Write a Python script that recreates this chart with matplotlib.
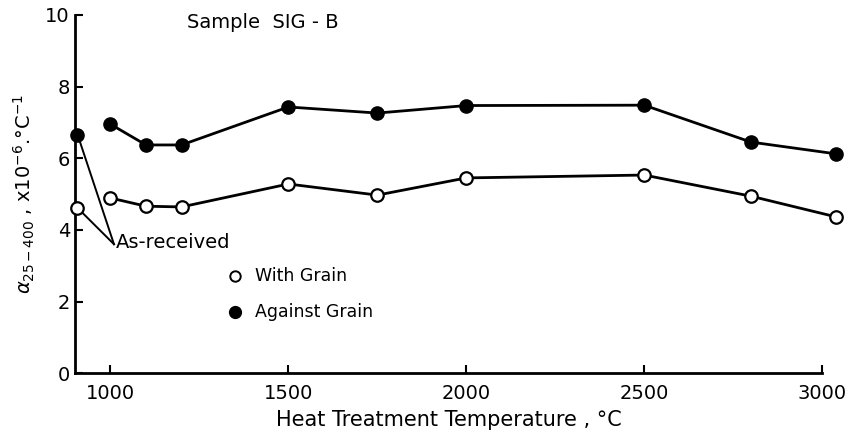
import matplotlib.pyplot as plt

# Temperaturas de tratamento (°C) e coeficientes de expansão (x10^-6 /°C)
temperaturas = [1000, 1100, 1200, 1500, 1750, 2000, 2500, 2800, 3040]
com_grao = [4.89, 4.66, 4.64, 5.28, 4.97, 5.45, 5.53, 4.94, 4.36]
contra_grao = [6.95, 6.37, 6.37, 7.43, 7.26, 7.47, 7.48, 6.45, 6.12]

# Amostra como recebida
temp_recebida = 905
com_grao_recebida = 4.61
contra_grao_recebida = 6.65

xticks = [1000, 1500, 2000, 2500, 3000]
yticks = [0, 2, 4, 6, 8, 10]

plt.rcParams['font.family'] = ['DejaVu Sans']

fig = plt.figure(figsize=(8.6, 4.38), dpi=100)
ax = fig.add_axes([0.087, 0.148, 0.869, 0.818])

ax.plot(temperaturas, contra_grao, '-o', color='black', lw=2, ms=9.5,
        mfc='black', mec='black', clip_on=False, zorder=3)
ax.plot(temperaturas, com_grao, '-o', color='black', lw=2, ms=9,
        mfc='white', mec='black', mew=1.6, clip_on=False, zorder=3)

ax.plot([temp_recebida], [contra_grao_recebida], 'o', color='black', ms=9.5,
        clip_on=False, zorder=4)
ax.plot([temp_recebida], [com_grao_recebida], 'o', ms=9, mfc='white',
        mec='black', mew=1.6, clip_on=False, zorder=4)

# Linhas indicando "As-received"
rotulo = (1010, 3.6)
ax.plot([temp_recebida + 8, rotulo[0]], [contra_grao_recebida - 0.15, rotulo[1]],
        color='black', lw=1.4, zorder=2)
ax.plot([temp_recebida + 15, rotulo[0]], [com_grao_recebida - 0.12, rotulo[1]],
        color='black', lw=1.4, zorder=2)
ax.text(rotulo[0] + 5, rotulo[1] + 0.05, 'As-received', fontsize=14,
        ha='left', va='center')

# Legenda manual
ax.plot([1350], [2.72], 'o', ms=7.5, mfc='white', mec='black', mew=1.4, clip_on=False)
ax.text(1405, 2.72, 'With Grain', fontsize=12.5, ha='left', va='center')
ax.plot([1350], [1.7], 'o', ms=8.5, color='black', clip_on=False)
ax.text(1405, 1.7, 'Against Grain', fontsize=12.5, ha='left', va='center')

ax.text(1215, 9.78, 'Sample  SIG - B', fontsize=14, ha='left', va='center')

ax.set_xlim(900, 3000)
ax.set_ylim(0, 10)
ax.set_xticks(xticks)
ax.set_yticks(yticks)
ax.tick_params(direction='in', length=6, width=1.5, labelsize=14)
ax.tick_params(axis='x', pad=8)
ax.spines['top'].set_visible(False)
ax.spines['right'].set_visible(False)
ax.spines['left'].set_linewidth(2)
ax.spines['bottom'].set_linewidth(2)

ax.set_xlabel('Heat Treatment Temperature , °C', fontsize=15, labelpad=5)
ax.set_ylabel(r'$\alpha_{25-400}$ , x10$^{-6}$.°C$^{-1}$', fontsize=14, labelpad=6)

fig.savefig('out.png', dpi=100)
